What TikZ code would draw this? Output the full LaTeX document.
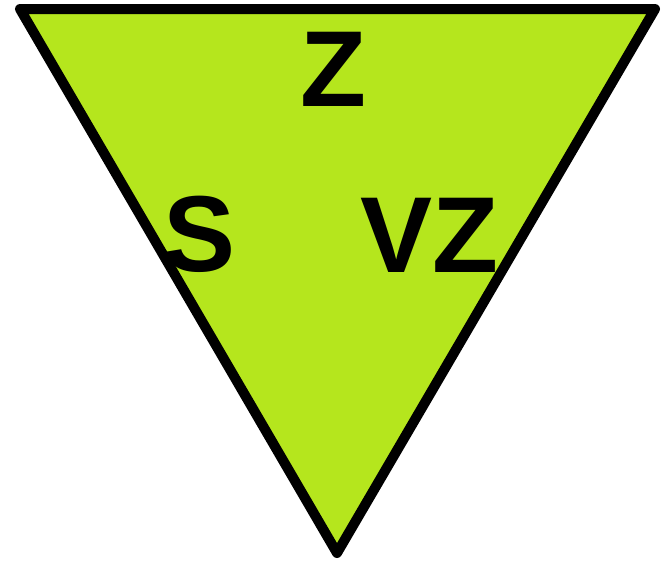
\documentclass[tikz,border=0pt]{standalone}
\usepackage{fontspec}
\setmainfont{Liberation Sans}
\usetikzlibrary{positioning}
\definecolor{limegreen}{RGB}{181,230,29}

\begin{document}
\begin{tikzpicture}[
        x=1pt, y=-1pt,
        tri/.style={draw=black, fill=limegreen, line width=10pt, line join=round},
        lbl/.style={anchor=base, inner sep=0pt, font=\fontsize{108}{108}\selectfont\bfseries}
    ]
        \useasboundingbox (0,0) rectangle (668,568);

        % corners of the triangle
        \coordinate (tl) at (20,9);
        \coordinate (tr) at (655,9);
        \coordinate (bt) at (337,553);
        \draw[tri] (tl) -- (tr) -- (bt) -- cycle;

        % labels
        \node[lbl] (z) at (333,106) {Z};
        \node[lbl] (s) at (200,271) {S};
        \node[lbl] (vz) at (429,272) {VZ};
    \end{tikzpicture}
\end{document}
